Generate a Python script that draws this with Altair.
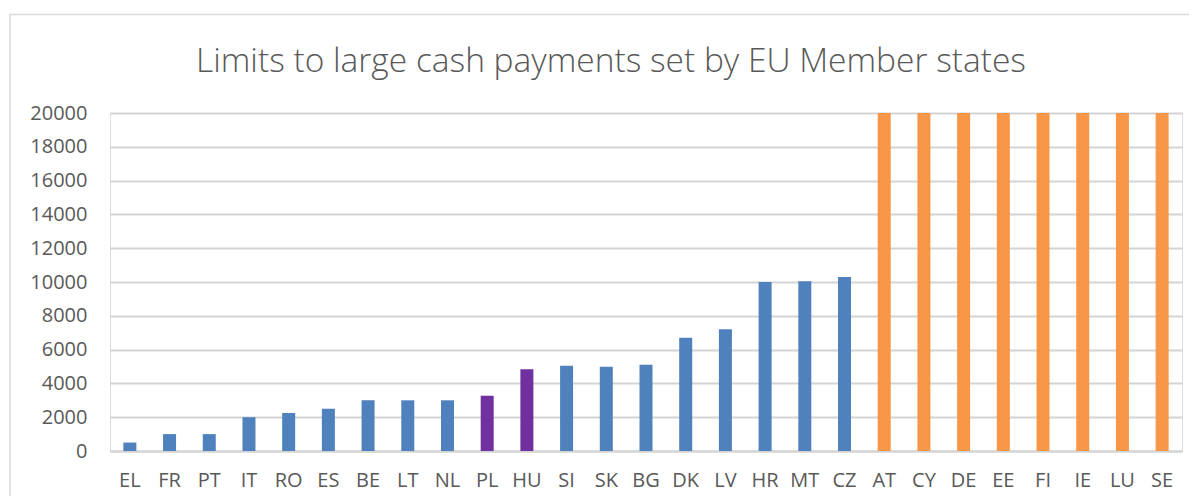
import altair as alt
import pandas as pd

countries = ["EL", "FR", "PT", "IT", "RO", "ES", "BE", "LT", "NL", "PL", "HU", "SI", "SK", "BG",
             "DK", "LV", "HR", "MT", "CZ", "AT", "CY", "DE", "EE", "FI", "IE", "LU", "SE"]
limits = [500, 1000, 1000, 2000, 2250, 2500, 3000, 3000, 3000, 3270, 4840, 5050, 4990, 5110,
          6700, 7200, 10000, 10040, 10300, 20000, 20000, 20000, 20000, 20000, 20000, 20000, 20000]
groups = ["limit"] * 9 + ["highlight"] * 2 + ["limit"] * 8 + ["none"] * 8
group_domain = ["limit", "highlight", "none"]
group_colors = ["#4F81BD", "#7030A0", "#F79646"]
y_ticks = list(range(0, 20001, 2000))

df = pd.DataFrame({"country": countries, "limit": limits, "group": groups})

font = "Open Sans"

bars = alt.Chart(df).mark_bar(size=13).encode(
    x=alt.X("country:N", sort=countries, title=None,
            axis=alt.Axis(labelAngle=0, ticks=False, domain=True, domainColor="#d4d4d4",
                          domainWidth=1.8, labelFont=font, labelFontSize=20,
                          labelColor="#595959", labelPadding=19, grid=False)),
    y=alt.Y("limit:Q", title=None, scale=alt.Scale(domain=[0, 20000], nice=False),
            axis=alt.Axis(values=y_ticks, ticks=False, domain=False, labelFont=font,
                          labelFontSize=20, labelColor="#595959", labelPadding=23,
                          gridColor="#d4d4d4", gridWidth=1.8, format="d")),
    color=alt.Color("group:N", scale=alt.Scale(domain=group_domain, range=group_colors),
                    legend=None),
)

frame = alt.Chart(pd.DataFrame({"k": [0]})).mark_rect(
    fill=None, stroke="#d9d9d9", strokeWidth=1.5
).encode(
    x=alt.value(-100), x2=alt.value(1100), y=alt.value(-98.5), y2=alt.value(400)
)

chart = alt.layer(frame, bars).properties(
    width=1072,
    height=338,
    title=alt.TitleParams(
        "Limits to large cash payments set by EU Member states",
        font=font, fontSize=33.5, fontWeight=300, color="#595959", anchor="middle",
        dx=-35, offset=0, dy=66,
    ),
    autosize=alt.AutoSizeParams(type="none"),
    padding={"left": 102, "top": 105, "right": 7, "bottom": 45},
).configure_view(stroke=None).configure(background="white")

chart.save("out.html", embed_options={"renderer": "svg", "actions": False})
